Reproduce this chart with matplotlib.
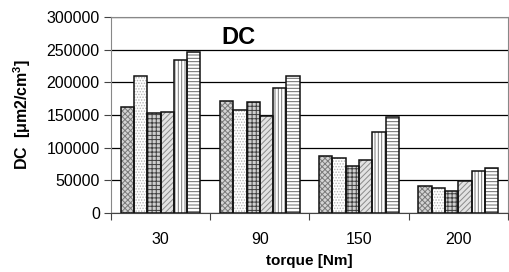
import matplotlib
matplotlib.use("Agg")
import matplotlib.pyplot as plt
import numpy as np

plt.rcParams['font.family'] = ['Liberation Sans', 'DejaVu Sans']
plt.rcParams['hatch.linewidth'] = 0.7

torque = ['30', '90', '150', '200']
s1 = [161800, 171400, 86700, 41300]
s2 = [210000, 157700, 83700, 38800]
s3 = [152600, 170400, 71500, 34200]
s4 = [154000, 148500, 80600, 48500]
s5 = [234700, 190900, 123500, 63800]
s6 = [246000, 209200, 147400, 68400]
series = [s1, s2, s3, s4, s5, s6]

faces = ['#d4d4d4', 'white', '#cfcfcf', '#e2e2e2', 'white', 'white']
hcols = ['#7a7a7a', '#b4b4b4', '#404040', '#8a8a8a', '#7a7a7a', '#6a6a6a']
hatches = ['xxxxxx', '......', '++++', '//////', '|||||', '-----']

fig = plt.figure(figsize=(5.09, 2.72), dpi=100)
ax = fig.add_axes([0.218, 0.217, 0.780, 0.721])

x = np.arange(1, len(torque) + 1)
w = 0.134
for i, vals in enumerate(series):
    pos = x + (i - 2.5) * w
    # hatch layer in its own colour, then the black outline on top
    ax.bar(pos, vals, w, color=faces[i], edgecolor=hcols[i],
           hatch=hatches[i], linewidth=0, zorder=3)
    ax.bar(pos, vals, w, fill=False, edgecolor='#111111',
           linewidth=1.1, zorder=4)

ax.set_xlim(0.5, 4.5)
ax.set_ylim(0, 300000)
ax.set_yticks(np.arange(0, 300001, 50000))
ax.yaxis.grid(True, color='black', linewidth=0.9, zorder=0)
ax.set_xticks(np.arange(0.5, 4.6, 1.0))
ax.set_xticklabels([])
ax.set_xticks(x, minor=True)
ax.set_xticklabels(torque, minor=True)
ax.tick_params(axis='x', which='minor', length=0, pad=14, labelsize=11.5)
ax.tick_params(axis='x', which='major', length=5, color='#444444')
ax.tick_params(axis='y', length=5, labelsize=11.5, color='#444444', pad=3)
for sp in ax.spines.values():
    sp.set_color('#888888')
ax.spines['bottom'].set_color('#444444')

ax.text(1.78, 268000, 'DC', fontsize=17, fontweight='bold', ha='center', va='center')
ax.set_ylabel(r'DC  [$\mathregular{\mu}$m2/cm$^\mathregular{3}$]', fontsize=11.5,
              fontweight='bold', labelpad=10)
ax.set_xlabel('torque [Nm]', fontsize=11, fontweight='bold', labelpad=5)

fig.savefig('out.png', dpi=100)
